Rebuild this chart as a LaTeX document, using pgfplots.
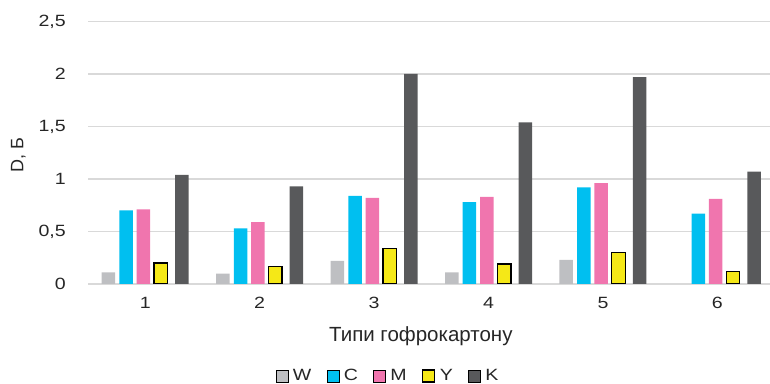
\documentclass[border=0pt]{standalone}
\usepackage{fontspec}
\setmainfont{Liberation Sans}
\newfontfamily\widefont{Liberation Sans}[FakeStretch=1.2]
\usepackage{pgfplots}
\pgfplotsset{compat=1.18}

\definecolor{cW}{HTML}{BEBFC2}
\definecolor{cC}{HTML}{00BFF0}
\definecolor{cM}{HTML}{F075AE}
\definecolor{cY}{HTML}{F5E817}
\definecolor{cK}{HTML}{58595B}
\definecolor{gridc}{HTML}{D9D9D9}
\definecolor{txt}{HTML}{262626}

\newcommand\tickfont{\widefont\fontsize{16.3bp}{19bp}\selectfont}

% optical density per ink, six board types
\pgfplotstableread{
x  W     C     M     Y     K
1  0.11  0.70  0.71  0.20  1.04
2  0.10  0.53  0.59  0.17  0.93
3  0.22  0.84  0.82  0.34  2.00
4  0.11  0.78  0.83  0.19  1.54
5  0.23  0.92  0.96  0.30  1.97
6  0.00  0.67  0.81  0.12  1.07
}\density

\begin{document}
\begin{tikzpicture}
\begin{axis}[
  at={(88bp,100bp)}, anchor=south west,
  scale only axis, width=682bp, height=262.5bp,
  xmin=0.5, xmax=6.46, ymin=0, ymax=2.5,
  ybar, bar width=13.5bp,
  axis line style={draw=none},
  major tick length=0pt,
  xtick={1,...,6},
  xticklabels={1,2,3,4,5,6},
  ytick={0,0.5,1,1.5,2,2.5},
  yticklabels={0,{0,5},1,{1,5},2,{2,5}},
  ymajorgrids, grid style={gridc, line width=1.3bp},
  tick label style={text=txt, font=\tickfont},
  xticklabel style={inner sep=0pt, anchor=north, yshift=-13bp},
  yticklabel style={inner sep=0pt, anchor=east, xshift=-22bp},
  xlabel={Типи гофрокартону},
  ylabel={D, Б},
  every axis x label/.style={at={(axis description cs:0.488,0)}, anchor=base,
    yshift=-57bp, text=txt, font=\fontsize{20.5bp}{24bp}\selectfont},
  every axis y label/.style={at={(axis description cs:0,0.491)}, xshift=-64.5bp,
    rotate=90, anchor=base, text=txt, font=\fontsize{18bp}{21bp}\selectfont},
  legend columns=-1,
  legend style={at={(axis description cs:0.442,0)}, anchor=center,
    yshift=-92bp, draw=none, inner sep=0pt,
    nodes={inner xsep=4.5bp, inner ysep=0pt, text=txt, font=\tickfont},
    /tikz/every even column/.append style={column sep=11bp}},
  legend image code/.code={\draw[#1] (0bp,-6bp) rectangle (12bp,6bp);},
]
\addplot[fill=cW, draw=none, bar shift=-36.75bp] table[x=x, y=W] {\density};
\addplot[fill=cC, draw=none, bar shift=-19.05bp] table[x=x, y=C] {\density};
\addplot[fill=cM, draw=none, bar shift=-1.75bp]  table[x=x, y=M] {\density};
\addplot[fill=cY, draw=black, line width=1.3bp, bar shift=15.6bp] table[x=x, y=Y] {\density};
\addplot[fill=cK, draw=none, bar shift=36.75bp]  table[x=x, y=K] {\density};
\legend{W, C, M, Y, K}
\end{axis}
\pgfresetboundingbox
\path[use as bounding box] (0,0) rectangle (770bp,384bp);
\end{tikzpicture}
\end{document}
